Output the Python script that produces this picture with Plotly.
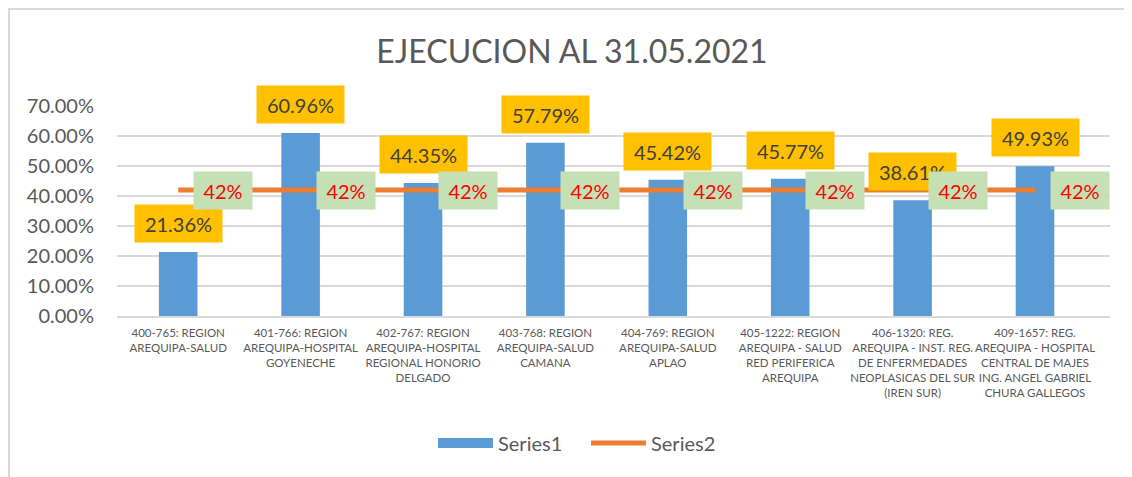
import plotly.graph_objects as go

categories = [
    "400-765: REGION<br>AREQUIPA-SALUD",
    "401-766: REGION<br>AREQUIPA-HOSPITAL<br>GOYENECHE",
    "402-767: REGION<br>AREQUIPA-HOSPITAL<br>REGIONAL HONORIO<br>DELGADO",
    "403-768: REGION<br>AREQUIPA-SALUD<br>CAMANA",
    "404-769: REGION<br>AREQUIPA-SALUD<br>APLAO",
    "405-1222: REGION<br>AREQUIPA - SALUD<br>RED PERIFERICA<br>AREQUIPA",
    "406-1320: REG.<br>AREQUIPA - INST. REG.<br>DE ENFERMEDADES<br>NEOPLASICAS DEL SUR<br>(IREN SUR)",
    "409-1657: REG.<br>AREQUIPA - HOSPITAL<br>CENTRAL DE MAJES<br>ING. ANGEL GABRIEL<br>CHURA GALLEGOS",
]
series1 = [0.2136, 0.6096, 0.4435, 0.5779, 0.4542, 0.4577, 0.3861, 0.4993]
series2 = [0.42, 0.42, 0.42, 0.42, 0.42, 0.42, 0.42, 0.42]
yticks = [0, 0.1, 0.2, 0.3, 0.4, 0.5, 0.6, 0.7]

FONT = "Lato, 'Open Sans', sans-serif"
GREY = "#595959"
BLUE = "#5B9BD5"
ORANGE = "#ED7D31"

# figure geometry (page adds an 8px body margin)
W, H = 1124, 469
L, R, T, B = 109, 22, 98, 161
PW, PH = W - L - R, H - T - B

fig = go.Figure()
fig.add_trace(go.Bar(
    x=categories, y=series1, name="Series1", showlegend=False,
    marker=dict(color=BLUE, line=dict(width=0)),
))
fig.add_trace(go.Scatter(
    x=categories, y=series2, name="Series2", mode="lines", showlegend=False,
    line=dict(color=ORANGE, width=5),
))
# legend-only entries
fig.add_trace(go.Scatter(
    x=[None], y=[None], name="Series1", mode="lines",
    line=dict(color=BLUE, width=14),
))
fig.add_trace(go.Scatter(
    x=[None], y=[None], name="Series2", mode="lines",
    line=dict(color=ORANGE, width=5),
))

annotations = []
for c, v in zip(categories, series1):
    annotations.append(dict(
        x=c, y=v, xref="x", yref="y", text=f"{v*100:.2f}%",
        showarrow=False, yanchor="bottom", yshift=9,
        bgcolor="#FFC000", borderpad=6, width=75, height=25,
        font=dict(family=FONT, size=20, color="#404040"),
    ))
for c, v in zip(categories, series2):
    annotations.append(dict(
        x=c, y=v, xref="x", yref="y", text=f"{v*100:.0f}%",
        showarrow=False, xanchor="left", xshift=15, yanchor="middle",
        bgcolor="#C5E0B4", borderpad=6, width=46, height=25,
        font=dict(family=FONT, size=20, color="#FF0000"),
    ))

fig.update_layout(
    width=W, height=H,
    margin=dict(l=L, r=R, t=T, b=B, autoexpand=False),
    paper_bgcolor="white", plot_bgcolor="white",
    bargap=0.685,
    title=dict(text="EJECUCION AL 31.05.2021", x=564 / W, xanchor="center",
               y=1 - 44 / H, yanchor="middle",
               font=dict(family=FONT, size=32, color=GREY)),
    font=dict(family=FONT, color=GREY),
    showlegend=True,
    legend=dict(orientation="h", x=(425 - L) / PW, xanchor="left",
                y=(H - B - 435) / PH, yanchor="middle",
                font=dict(family=FONT, size=20, color=GREY),
                traceorder="normal", itemwidth=55,
                entrywidth=83, entrywidthmode="pixels"),
    annotations=annotations,
    shapes=[
        dict(type="line", xref="paper", yref="paper",
             x0=(0 - L) / PW, x1=(W - L) / PW,
             y0=(H - B - 1) / PH, y1=(H - B - 1) / PH,
             line=dict(color="#D9D9D9", width=2)),
        dict(type="line", xref="paper", yref="paper",
             x0=(1 - L) / PW, x1=(1 - L) / PW,
             y0=(H - B) / PH, y1=-B / PH,
             line=dict(color="#D9D9D9", width=2)),
    ],
)
fig.update_yaxes(
    range=[0, 0.7], tickvals=yticks, tickformat=".2%",
    showgrid=True, gridcolor="#D9D9D9", gridwidth=2,
    zeroline=False, showline=False, automargin=False,
    tickfont=dict(family=FONT, size=20, color=GREY), ticks="", ticklen=0,
    ticklabelstandoff=22,
)
fig.update_xaxes(
    showline=True, linecolor="#D9D9D9", linewidth=2, automargin=False,
    tickfont=dict(family=FONT, size=11.5, color=GREY), tickangle=0,
    ticks="", showgrid=False, ticklabelstandoff=5,
)

fig.write_html("out.html")
